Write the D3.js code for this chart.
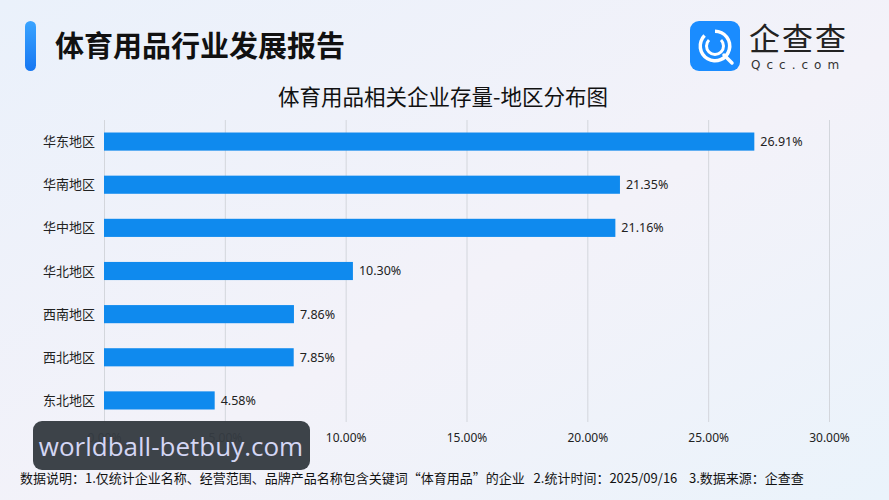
<!DOCTYPE html>
<html>
<head>
<meta charset="utf-8">
<script src="https://cdn.jsdelivr.net/npm/d3@7"></script>
<style>
  html, body { margin: 0; padding: 0; }
  body { width: 889px; height: 500px; overflow: hidden; font-family: "Noto Sans CJK SC", "Noto Sans", sans-serif; }
</style>
</head>
<body>
<div id="chart"></div>
<script>
// data
var regions = ["华东地区", "华南地区", "华中地区", "华北地区", "西南地区", "西北地区", "东北地区"];
var shares = [26.91, 21.35, 21.16, 10.30, 7.86, 7.85, 4.58];
var tickValues = [0, 5, 10, 15, 20, 25, 30];

var W = 889, H = 500;
var margin = {top: 120, right: 60, bottom: 78, left: 104};
var width = 829 - margin.left,
    height = 422 - margin.top;

var svg = d3.select("#chart").append("svg")
  .attr("width", W)
  .attr("height", H);

//Background
var defs = svg.append("defs");
var bg = defs.append("linearGradient").attr("id", "bg")
  .attr("x1", "0").attr("y1", "0").attr("x2", "1").attr("y2", "1");
bg.append("stop").attr("offset", "0%").attr("stop-color", "#eaf1fb");
bg.append("stop").attr("offset", "55%").attr("stop-color", "#f3f2f9");
bg.append("stop").attr("offset", "100%").attr("stop-color", "#eaf3fb");
svg.append("rect").attr("width", W).attr("height", H).attr("fill", "url(#bg)");

var bar = defs.append("linearGradient").attr("id", "accent")
  .attr("x1", "0").attr("y1", "0").attr("x2", "0").attr("y2", "1");
bar.append("stop").attr("offset", "0%").attr("stop-color", "#3aa4ff");
bar.append("stop").attr("offset", "100%").attr("stop-color", "#1677f2");

//Header
svg.append("rect")
  .attr("x", 25).attr("y", 21).attr("width", 11).attr("height", 50)
  .attr("rx", 5.5).attr("fill", "url(#accent)");
svg.append("text")
  .attr("x", 55).attr("y", 57)
  .style("font-size", "29px").style("font-weight", "bold")
  .style("fill", "#111")
  .text("体育用品行业发展报告");

//Logo
var logo = svg.append("g").attr("transform", "translate(690,21)");
logo.append("rect").attr("width", 50).attr("height", 50).attr("rx", 9).attr("fill", "#1a8cff");
var arc = d3.arc();
logo.append("path")
  .attr("transform", "translate(25,25)")
  .attr("d", arc({innerRadius: 13, outerRadius: 16.5, startAngle: 0, endAngle: Math.PI * 1.75}))
  .attr("fill", "#fff");
logo.append("path")
  .attr("transform", "translate(25,25)")
  .attr("d", arc({innerRadius: 7, outerRadius: 10, startAngle: Math.PI * 0.25, endAngle: Math.PI * 1.75}))
  .attr("fill", "#fff");
logo.append("line")
  .attr("x1", 34).attr("y1", 34).attr("x2", 42).attr("y2", 42)
  .attr("stroke", "#fff").attr("stroke-width", 3.5).attr("stroke-linecap", "round");
svg.append("text")
  .attr("x", 749).attr("y", 50)
  .style("font-size", "31px").style("fill", "#222")
  .style("letter-spacing", "2px")
  .text("企查查");
svg.append("text")
  .attr("x", 751).attr("y", 69)
  .style("font-size", "12px").style("fill", "#333")
  .style("letter-spacing", "6px")
  .style("font-family", "DejaVu Sans, sans-serif")
  .text("Qcc.com");

//Chart title
svg.append("text")
  .attr("x", 443).attr("y", 105)
  .attr("text-anchor", "middle")
  .style("font-size", "21.5px").style("fill", "#111")
  .text("体育用品相关企业存量-地区分布图");

var g = svg.append("g")
  .attr("transform", "translate(" + margin.left + "," + margin.top + ")");

//Scales
var x = d3.scaleLinear().domain([0, 30]).range([0, width]);
var y = d3.scaleBand().domain(regions).range([0, height]).paddingInner(0.58).paddingOuter(0.29);

//Grid + axis
var axis = g.append("g")
  .call(d3.axisBottom(x)
    .tickValues(tickValues)
    .tickSize(height)
    .tickFormat(function(d) { return d.toFixed(2) + "%"; }));
axis.select(".domain").remove();
axis.selectAll(".tick line").attr("stroke", "#d3d6dc").attr("stroke-width", 1);
axis.selectAll(".tick text")
  .attr("y", height + 11)
  .attr("dy", "0.71em")
  .style("font-size", "12px")
  .style("fill", "#222")
  .style("font-family", "Noto Sans, sans-serif");

//Bars
var rows = g.selectAll("g.row")
  .data(regions)
  .enter().append("g")
  .attr("class", "row")
  .attr("transform", function(d) { return "translate(0," + y(d) + ")"; });

rows.append("rect")
  .attr("x", 0)
  .attr("height", y.bandwidth())
  .attr("width", function(d, i) { return x(shares[i]); })
  .attr("fill", "#0f8aee");

rows.append("text")
  .attr("x", function(d, i) { return x(shares[i]) + 6; })
  .attr("y", y.bandwidth() / 2)
  .attr("dy", ".35em")
  .style("font-size", "12.5px")
  .style("fill", "#222")
  .style("font-family", "Noto Sans, sans-serif")
  .text(function(d, i) { return shares[i].toFixed(2) + "%"; });

rows.append("text")
  .attr("x", -9)
  .attr("y", y.bandwidth() / 2)
  .attr("dy", ".35em")
  .attr("text-anchor", "end")
  .style("font-size", "13px")
  .style("fill", "#222")
  .text(function(d) { return d; });

//Footnote
svg.append("text")
  .attr("x", 20).attr("y", 483)
  .style("font-size", "13px").style("fill", "#111")
  .style("white-space", "pre")
  .text("数据说明：1.仅统计企业名称、经营范围、品牌产品名称包含关键词“体育用品”的企业   2.统计时间：2025/09/16    3.数据来源：企查查");

//Watermark overlay
svg.append("rect")
  .attr("x", 33).attr("y", 421).attr("width", 277).attr("height", 49)
  .attr("rx", 9).attr("fill", "#353b42").attr("fill-opacity", 0.96);
svg.append("text")
  .attr("x", 171).attr("y", 456)
  .attr("text-anchor", "middle")
  .style("font-size", "26px").style("fill", "#d4d6f4")
  .style("font-family", "Open Sans, sans-serif")
  .text("worldball-betbuy.com");
</script>
</body>
</html>
